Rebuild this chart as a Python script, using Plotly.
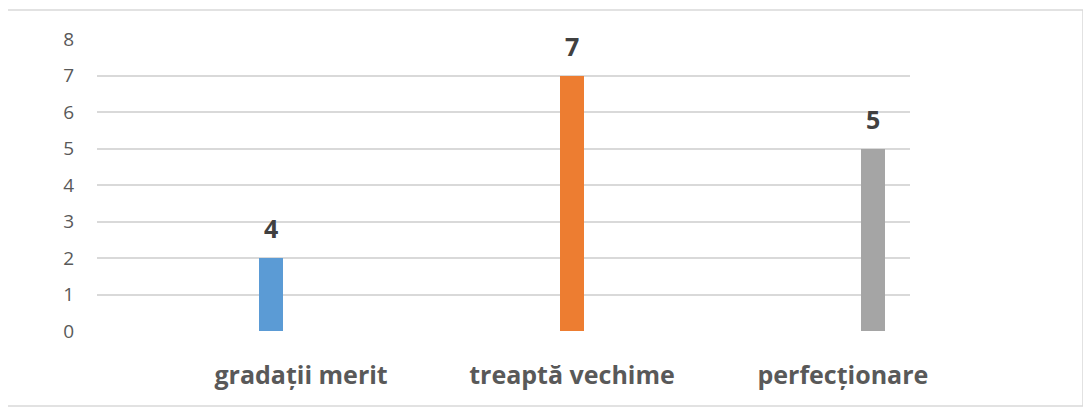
import plotly.graph_objects as go

categories = ["gradații merit", "treaptă vechime", "perfecționare"]
values = [2, 7, 5]
labels = ["4", "7", "5"]
colors = ["#5B9BD5", "#ED7D31", "#A5A5A5"]
y_ticks = [0, 1, 2, 3, 4, 5, 6, 7, 8]

positions = list(range(len(categories)))
label_shift = [0.1, 0.0, -0.1]
tick_positions = [p + s for p, s in zip(positions, label_shift)]

fig = go.Figure()
fig.add_trace(go.Bar(
    x=positions, y=values, width=0.08,
    marker=dict(color=colors, line=dict(width=0)),
    hoverinfo="skip", showlegend=False,
))

for p, v, t in zip(positions, values, labels):
    fig.add_annotation(x=p, y=v, text=f"<b>{t}</b>", showarrow=False,
                       yanchor="middle", yshift=30,
                       font=dict(size=25, color="#404040", family="Open Sans"))

# page body has an 8px margin, so the figure is sized/offset accordingly
fig.update_layout(
    width=1083, height=401,
    margin=dict(l=89, r=181, t=31, b=78),
    paper_bgcolor="white", plot_bgcolor="white",
    font=dict(family="Open Sans", color="#595959"),
    bargap=0,
    xaxis=dict(range=[-0.578, 2.123], tickvals=tick_positions,
               ticktext=[f"<b>{c}</b>" for c in categories],
               tickfont=dict(size=25, color="#595959"),
               showgrid=False, zeroline=False, showline=False,
               ticks="", ticklabelstandoff=27, fixedrange=True),
    yaxis=dict(range=[0, 8], tickvals=y_ticks, showgrid=True,
               gridcolor="#D9D9D9", gridwidth=1.5, zeroline=False,
               showline=False, ticks="", tickfont=dict(size=19, color="#595959"),
               ticklabelstandoff=22, fixedrange=True),
    shapes=[dict(type="rect", xref="paper", yref="paper",
                 x0=-0.1107, x1=1.2128, y0=-0.2568, y1=1.0993,
                 line=dict(color="#D9D9D9", width=1.5), layer="below")],
)

fig.write_html("out.html")
